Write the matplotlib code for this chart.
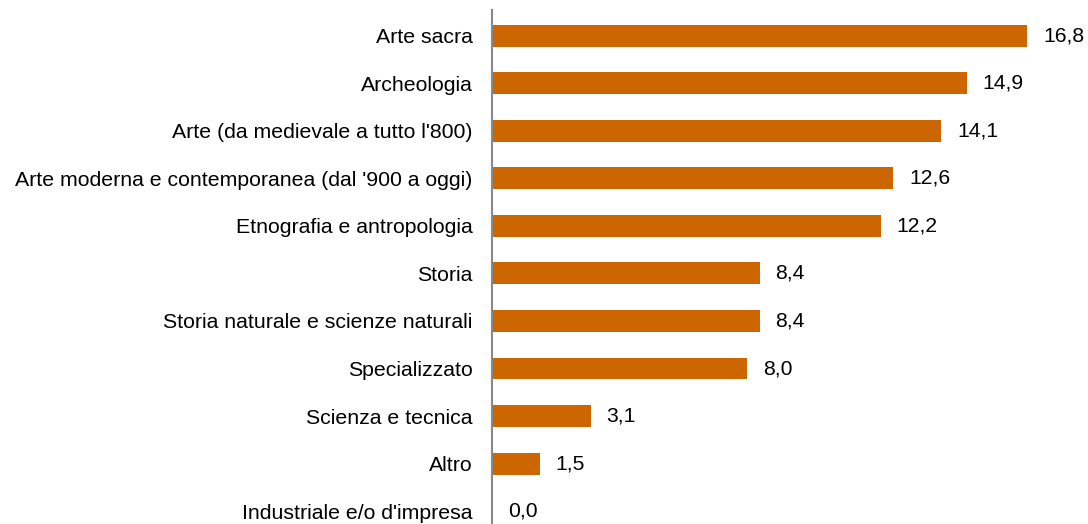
import matplotlib
matplotlib.use("Agg")
import matplotlib.pyplot as plt

categories = ["Arte sacra", "Archeologia", "Arte (da medievale a tutto l'800)",
              "Arte moderna e contemporanea (dal '900 a oggi)", "Etnografia e antropologia",
              "Storia", "Storia naturale e scienze naturali", "Specializzato",
              "Scienza e tecnica", "Altro", "Industriale e/o d'impresa"]
values = [16.8, 14.9, 14.1, 12.6, 12.2, 8.4, 8.4, 8.0, 3.1, 1.5, 0.0]

plt.rcParams['font.family'] = ['Liberation Sans', 'DejaVu Sans']

fig = plt.figure(figsize=(10.88, 5.24), dpi=100)
ax = fig.add_axes([492/1088, 0, 1 - 492/1088, 1 - 10/524])

y = list(range(len(categories)))
ax.barh(y, values, height=0.46, color='#CC6600')
for yi, v in zip(y, values):
    ax.text(v + 0.5, yi, f"{v:.1f}".replace('.', ','), va='center', ha='left', fontsize=15.2, color='#000000')

ax.set_yticks(y)
ax.set_yticklabels(categories, fontsize=15.3)
ax.tick_params(axis='y', length=0, pad=14)
ax.set_xticks([])
ax.set_xlim(0, (1088-492)/31.85)
ax.set_ylim(len(categories) - 1 + 0.27, -0.54)
for s in ['top', 'right', 'bottom']:
    ax.spines[s].set_visible(False)
ax.spines['left'].set_color('#888888')
ax.spines['left'].set_linewidth(1.5)

fig.savefig("out.png", dpi=100)
